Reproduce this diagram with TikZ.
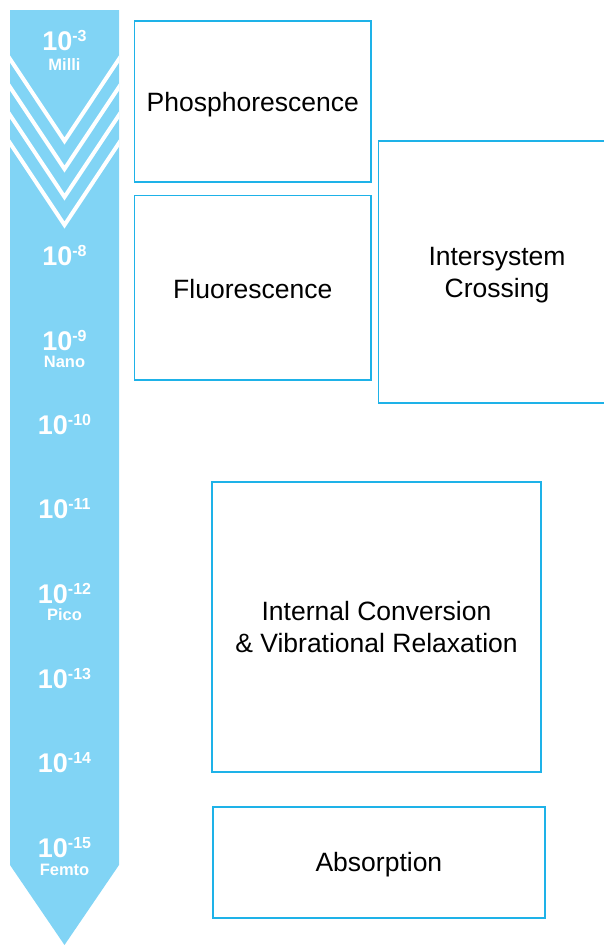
\documentclass[tikz,border=0pt]{standalone}
\usepackage{fontspec}
\setmainfont{Liberation Sans}
\definecolor{arrowblue}{RGB}{129,212,245}
\definecolor{boxblue}{RGB}{30,178,232}
\newcommand{\tenpow}[1]{{\fontsize{27}{27}\selectfont 10}\raisebox{9pt}{\fontsize{16}{16}\selectfont #1}}
\begin{document}
\begin{tikzpicture}[x=1pt,y=-1pt,
  box/.style={draw=boxblue, line width=1.5pt, fill=white, inner sep=0pt},
  boxtext/.style={align=center, font=\fontsize{26.5}{32}\selectfont, text=black, inner sep=0pt},
  pow/.style={anchor=base, text=white, font=\bfseries, inner sep=0pt},
  unit/.style={anchor=base, text=white, font=\bfseries\fontsize{16.5}{16.5}\selectfont, inner sep=0pt},
  chev/.style={draw=white, line width=4pt}]
\useasboundingbox (0,0) rectangle (604,945);
% time arrow
\path[fill=arrowblue] (10,10) -- (119,10) -- (119,865) -- (64.5,945) -- (10,865) -- cycle;
\begin{scope}
  \clip (10,10) -- (119,10) -- (119,865) -- (64.5,945) -- (10,865) -- cycle;
  \foreach \t in {141,169,197,225}{
    \draw[chev] (0,\t-97) -- (64.5,\t) -- (129,\t-97);
  }
\end{scope}
% labels on the arrow
\node[pow] (p3) at (64.5,50) {\tenpow{-3}};
\node[unit] (milli) at (64.5,70) {Milli};
\node[pow] (p8) at (64.5,265) {\tenpow{-8}};
\node[pow] (p9) at (64.5,350) {\tenpow{-9}};
\node[unit] (nano) at (64.5,367) {Nano};
\node[pow] (p10) at (64.5,434) {\tenpow{-10}};
\node[pow] (p11) at (64.5,518) {\tenpow{-11}};
\node[pow] (p12) at (64.5,603) {\tenpow{-12}};
\node[unit] (pico) at (64.5,620) {Pico};
\node[pow] (p13) at (64.5,688) {\tenpow{-13}};
\node[pow] (p14) at (64.5,772) {\tenpow{-14}};
\node[pow] (p15) at (64.5,857) {\tenpow{-15}};
\node[unit] (femto) at (64.5,875) {Femto};
% process boxes
\node[box, minimum width=236.5, minimum height=161] (phos) at (252.75,101.5) {};
\node[boxtext] (phosT) at ([yshift=-3pt]phos.center) {Phosphorescence};
\node[box, minimum width=236.5, minimum height=184.5] (fluor) at (252.75,287.75) {};
\node[boxtext] (fluorT) at ([yshift=-1.5pt]fluor.center) {Fluorescence};
\node[box, minimum width=236.6, minimum height=262] (isc) at (497,272) {};
\node[boxtext] (iscT) at ([yshift=-3.5pt]isc.center) {Intersystem\\Crossing};
\node[box, minimum width=329, minimum height=290] (icvr) at (376.5,626.9) {};
\node[boxtext] (icvrT) at ([yshift=0pt]icvr.center) {Internal Conversion\\\& Vibrational Relaxation};
\node[box, minimum width=332.3, minimum height=111] (abs) at (378.9,862.5) {};
\node[boxtext] (absT) at ([yshift=-2pt]abs.center) {Absorption};
\end{tikzpicture}
\end{document}
